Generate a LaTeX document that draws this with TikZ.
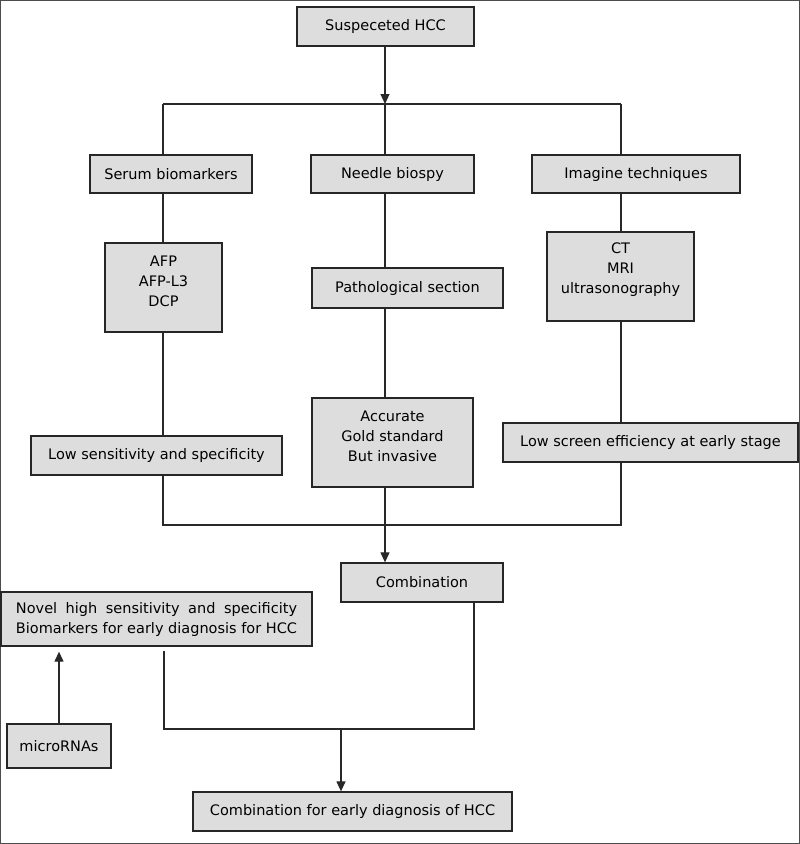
\documentclass[tikz,border=0pt]{standalone}
\usepackage{fontspec}
\setmainfont{DejaVu Sans}
\usepackage{calc}
\usepackage{tikz}
\usetikzlibrary{arrows.meta}
\definecolor{boxgray}{RGB}{221,221,221}
\definecolor{linegray}{RGB}{40,40,40}
\newcommand{\novelline}{\makebox[\widthof{Biomarkers for early diagnosis for HCC}][s]{Novel high sensitivity and specificity}}

\begin{document}
\begin{tikzpicture}[x=1pt,y=-1pt,
  every node/.style={font=\fontsize{14.5}{20}\selectfont},
  fbox/.style={draw=black!85,line width=1.3pt,fill=boxgray,inner sep=0pt,align=center},
  link/.style={draw=linegray,line width=1.2pt},
  arr/.style={link,-{Triangle[length=10pt,width=9pt]}}]
\useasboundingbox (0,0) rectangle (800,844);
\draw[black!70,line width=1pt] (0.5,0.5) rectangle (799.5,843.5);
% boxes
\node[fbox,minimum width=177,minimum height=39] (susp) at (385.5,26.5) {Suspeceted HCC};
\node[fbox,minimum width=162,minimum height=38] (serum) at (171,174) {Serum biomarkers};
\node[fbox,minimum width=163,minimum height=38] (needle) at (392.5,174) {Needle biospy};
\node[fbox,minimum width=208,minimum height=38] (imag) at (636,174) {Imagine techniques};
\node[fbox,minimum width=117,minimum height=89] (afp) at (163.5,287.5) {AFP\\AFP-L3\\DCP\\[-7pt]\mbox{}};
\node[fbox,minimum width=191,minimum height=40] (patho) at (407.5,288) {Pathological section};
\node[fbox,minimum width=147,minimum height=89] (ct) at (620.5,276.5) {CT\\MRI\\ultrasonography\\[-4pt]\mbox{}};
\node[fbox,minimum width=251,minimum height=39] (lowsens) at (156.5,455.5) {Low sensitivity and specificity};
\node[fbox,minimum width=161,minimum height=89] (accur) at (392.5,442.5) {Accurate\\Gold standard\\But invasive\\[-7pt]\mbox{}};
\node[fbox,minimum width=295,minimum height=39] (lowscr) at (650.5,442.5) {Low screen efficiency at early stage};
\node[fbox,minimum width=162,minimum height=39] (comb) at (422,582.5) {Combination};
\node[fbox,minimum width=311,minimum height=54,align=left] (novel) at (156.5,619) {\novelline\\Biomarkers for early diagnosis for HCC};
\node[fbox,minimum width=104,minimum height=44] (mirna) at (59,746) {microRNAs};
\node[fbox,minimum width=319,minimum height=39] (final) at (352.5,811.5) {Combination for early diagnosis of HCC};
% branch points
\coordinate (tl) at (163,104);
\coordinate (tm) at (385,104);
\coordinate (tr) at (621,104);
\coordinate (bl) at (163,525);
\coordinate (bm) at (385,525);
\coordinate (br) at (621,525);
\coordinate (cs) at (164,651);
\coordinate (cl) at (164,729);
\coordinate (cm) at (341,729);
\coordinate (cr) at (474,729);
% connectors
\draw[arr] (susp.south -| tm) -- (tm);
\draw[link] (tl) -- (tr);
\draw[link] (tl) -- (serum.north -| tl);
\draw[link] (tm) -- (needle.north -| tm);
\draw[link] (tr) -- (imag.north -| tr);
\draw[link] (serum.south -| tl) -- (afp.north -| tl);
\draw[link] (afp.south -| tl) -- (lowsens.north -| tl);
\draw[link] (needle.south -| tm) -- (patho.north -| tm);
\draw[link] (patho.south -| tm) -- (accur.north -| tm);
\draw[link] (imag.south -| tr) -- (ct.north -| tr);
\draw[link] (ct.south -| tr) -- (lowscr.north -| tr);
\draw[link] (lowsens.south -| bl) -- (bl) -- (br) -- (lowscr.south -| br);
\draw[arr] (accur.south -| bm) -- (comb.north -| bm);
\draw[link] (cs) -- (cl) -- (cr) -- (comb.south -| cr);
\draw[arr] (cm) -- (final.north -| cm);
\draw[arr,shorten >=5pt] (mirna.north) -- (mirna.north |- novel.south);
\end{tikzpicture}
\end{document}
